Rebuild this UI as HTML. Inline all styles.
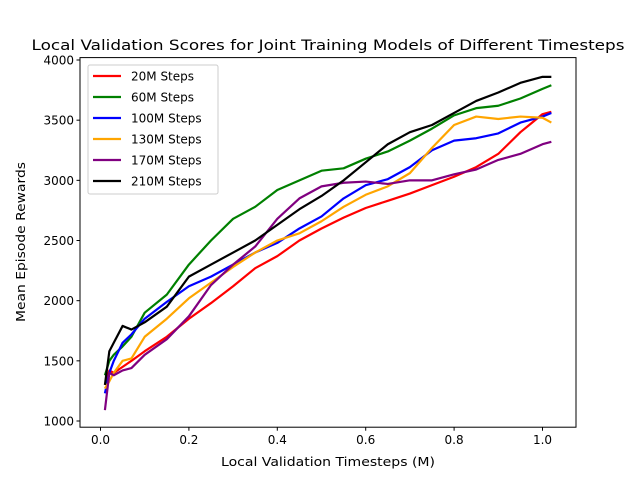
<!DOCTYPE html>
<html><head><meta charset="utf-8"><style>body{margin:0;background:#fff}svg{display:block;font-family:"DejaVu Sans","Liberation Sans",sans-serif}</style></head>
<body>
<svg id="chart" width="640" height="480"></svg>
<script>
const xs=[0.01,0.02,0.03,0.05,0.07,0.1,0.15,0.2,0.25,0.3,0.35,0.4,0.45,0.5,0.55,0.6,0.65,0.7,0.75,0.8,0.85,0.9,0.95,1.0,1.02];
const s20=[1300,1420,1400,1450,1500,1580,1700,1850,1980,2120,2270,2370,2500,2600,2690,2770,2830,2890,2960,3030,3110,3220,3400,3550,3570];
const s60=[1380,1500,1550,1620,1700,1900,2050,2300,2500,2680,2780,2920,3000,3080,3100,3180,3240,3330,3430,3540,3600,3620,3680,3760,3790];
const s100=[1230,1400,1500,1650,1720,1850,1990,2120,2200,2300,2400,2480,2600,2700,2850,2960,3010,3110,3250,3330,3350,3390,3480,3530,3560];
const s130=[1270,1330,1400,1500,1520,1700,1850,2020,2150,2280,2400,2500,2560,2660,2780,2880,2950,3060,3270,3460,3530,3510,3530,3520,3480];
const s170=[1090,1400,1380,1420,1440,1550,1680,1870,2130,2300,2450,2680,2850,2950,2980,2990,2970,3000,3000,3050,3090,3170,3220,3300,3320];
const s210=[1300,1580,1650,1790,1760,1820,1950,2200,2300,2400,2500,2630,2760,2870,3000,3150,3300,3400,3460,3560,3660,3730,3810,3860,3860];
const seriesNames=["20M Steps","60M Steps","100M Steps","130M Steps","170M Steps","210M Steps"];
const seriesColors=["red","green","blue","orange","purple","black"];
const xTicks=[0.0,0.2,0.4,0.6,0.8,1.0];
const yTicks=[1000,1500,2000,2500,3000,3500,4000];
const allSeries=[s20,s60,s100,s130,s170,s210];

const NS="http://www.w3.org/2000/svg";
const svg=document.getElementById('chart');
const L=80,R=576,T=57.6,B=427.2;
const X=v=>100.5+v*442;
const Y=v=>421-(v-1000)*0.12033;
function mk(t,a,p){const e=document.createElementNS(NS,t);for(const k in a)e.setAttribute(k,a[k]);(p||svg).appendChild(e);return e;}
let t=mk('text',{x:328,y:50,'text-anchor':'middle','font-size':14.4,textLength:593,lengthAdjust:'spacingAndGlyphs'});t.textContent="Local Validation Scores for Joint Training Models of Different Timesteps";

allSeries.forEach((s,i)=>{
 const p=mk('polyline',{points:s.map((v,j)=>X(xs[j])+','+Y(v)).join(' '),fill:'none',stroke:seriesColors[i],'stroke-width':2.2,'stroke-linejoin':'round'});
 
 
});
const fr=mk('rect',{x:L,y:T,width:R-L,height:B-T,fill:'none',stroke:'#000','stroke-width':1});

xTicks.forEach(v=>{mk('line',{x1:X(v),x2:X(v),y1:B,y2:B+3.5,stroke:'#000'});
 const e=mk('text',{x:X(v),y:B+17,'text-anchor':'middle','font-size':12});e.textContent=v.toFixed(1);
 });
yTicks.forEach(v=>{mk('line',{x1:L-3.5,x2:L,y1:Y(v),y2:Y(v),stroke:'#000'});
 const e=mk('text',{x:L-6,y:Y(v)+4.5,'text-anchor':'end','font-size':12});e.textContent=v;
 });
let xl=mk('text',{x:328,y:466,'text-anchor':'middle','font-size':12,textLength:214,lengthAdjust:'spacingAndGlyphs'});xl.textContent="Local Validation Timesteps (M)";

let yl=mk('text',{x:25,y:242,'text-anchor':'middle','font-size':12,textLength:160,lengthAdjust:'spacingAndGlyphs',transform:'rotate(-90 25 242)'});yl.textContent="Mean Episode Rewards";

const lg=mk('g',{});

mk('rect',{x:88,y:65,width:130,height:129,fill:'#fff','fill-opacity':0.8,stroke:'#ccc',rx:2},lg);
seriesNames.forEach((n,i)=>{const y=76+i*21;
 mk('line',{x1:93,x2:121,y1:y,y2:y,stroke:seriesColors[i],'stroke-width':2.2},lg);
 const e=mk('text',{x:131,y:y+4.5,'font-size':12},lg);e.textContent=n;
 });
</script>
</body></html>
